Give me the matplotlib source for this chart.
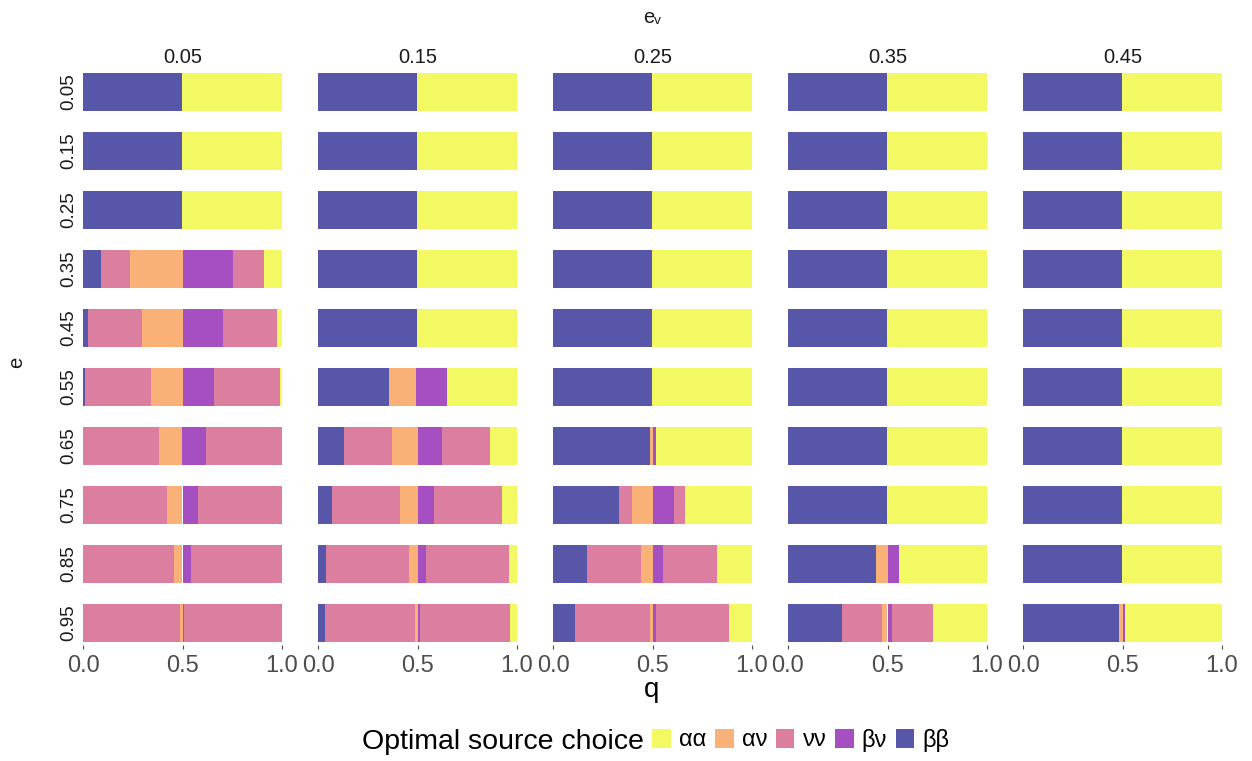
import matplotlib
matplotlib.use("Agg")
import matplotlib.pyplot as plt
from matplotlib.patches import Patch

plt.rcParams["font.family"] = ["Liberation Sans", "DejaVu Sans"]

# Facet levels
ev_levels = ["0.05", "0.15", "0.25", "0.35", "0.45"]
e_levels = ["0.05", "0.15", "0.25", "0.35", "0.45", "0.55", "0.65", "0.75", "0.85", "0.95"]

# Source choices and their fill colours
choices = ["αα", "αν", "νν", "βν", "ββ"]
choice_colors = {
    "αα": "#F3F962",
    "αν": "#F9B178",
    "νν": "#DC7EA0",
    "βν": "#A64FC1",
    "ββ": "#5756A8",
}

# Each row: sequence of (choice, upper q bound) from q = 0 to q = 1
SPLIT = [("ββ", 0.497), ("αα", 1.0)]

regions_ev005 = [
    SPLIT, SPLIT, SPLIT,
    [("ββ", 0.092), ("νν", 0.236), ("αν", 0.5), ("βν", 0.755), ("νν", 0.91), ("αα", 1.0)],
    [("ββ", 0.025), ("νν", 0.295), ("αν", 0.5), ("βν", 0.705), ("νν", 0.975), ("αα", 1.0)],
    [("ββ", 0.012), ("νν", 0.343), ("αν", 0.5), ("βν", 0.658), ("νν", 0.99), ("αα", 1.0)],
    [("νν", 0.384), ("αν", 0.495), ("βν", 0.616), ("νν", 1.0)],
    [("νν", 0.424), ("αν", 0.5), ("βν", 0.578), ("νν", 1.0)],
    [("νν", 0.457), ("αν", 0.5), ("βν", 0.544), ("νν", 1.0)],
    [("νν", 0.487), ("αν", 0.5), ("βν", 0.51), ("νν", 1.0)],
]

regions_ev015 = [
    SPLIT, SPLIT, SPLIT, SPLIT, SPLIT,
    [("ββ", 0.357), ("αν", 0.494), ("βν", 0.647), ("αα", 1.0)],
    [("ββ", 0.131), ("νν", 0.374), ("αν", 0.5), ("βν", 0.625), ("νν", 0.866), ("αα", 1.0)],
    [("ββ", 0.072), ("νν", 0.414), ("αν", 0.5), ("βν", 0.585), ("νν", 0.926), ("αα", 1.0)],
    [("ββ", 0.042), ("νν", 0.456), ("αν", 0.5), ("βν", 0.544), ("νν", 0.958), ("αα", 1.0)],
    [("ββ", 0.034), ("νν", 0.487), ("αν", 0.502), ("βν", 0.511), ("νν", 0.966), ("αα", 1.0)],
]

regions_ev025 = [
    SPLIT, SPLIT, SPLIT, SPLIT, SPLIT, SPLIT,
    [("ββ", 0.486), ("αν", 0.502), ("βν", 0.516), ("αα", 1.0)],
    [("ββ", 0.332), ("νν", 0.395), ("αν", 0.5), ("βν", 0.606), ("νν", 0.665), ("αα", 1.0)],
    [("ββ", 0.171), ("νν", 0.444), ("αν", 0.5), ("βν", 0.553), ("νν", 0.826), ("αα", 1.0)],
    [("ββ", 0.112), ("νν", 0.486), ("αν", 0.5), ("βν", 0.516), ("νν", 0.884), ("αα", 1.0)],
]

regions_ev035 = [
    SPLIT, SPLIT, SPLIT, SPLIT, SPLIT, SPLIT, SPLIT, SPLIT,
    [("ββ", 0.444), ("αν", 0.5), ("βν", 0.556), ("αα", 1.0)],
    [("ββ", 0.273), ("νν", 0.474), ("αν", 0.5), ("βν", 0.524), ("νν", 0.727), ("αα", 1.0)],
]

regions_ev045 = [
    SPLIT, SPLIT, SPLIT, SPLIT, SPLIT, SPLIT, SPLIT, SPLIT, SPLIT,
    [("ββ", 0.484), ("αν", 0.5), ("βν", 0.513), ("αα", 1.0)],
]

regions_by_ev = [regions_ev005, regions_ev015, regions_ev025, regions_ev035, regions_ev045]

x_ticks = [0.0, 0.5, 1.0]
x_tick_labels = ["0.0", "0.5", "1.0"]

W, H = 1252, 761
fig = plt.figure(figsize=(W / 100, H / 100), dpi=100)


def fx(px):
    return px / W


def fy(py):
    return 1 - py / H


panel_left = [83, 318, 553, 788, 1023]
panel_w = 199
panel_top, panel_bottom = 70, 645
bar_h = 0.644

for j, (ev, rows) in enumerate(zip(ev_levels, regions_by_ev)):
    ax = fig.add_axes([fx(panel_left[j]), fy(panel_bottom), panel_w / W,
                       (panel_bottom - panel_top) / H])
    for i, row in enumerate(rows):
        start = 0.0
        for choice, end in row:
            ax.barh(i, end - start, left=start, height=bar_h,
                    color=choice_colors[choice], edgecolor="none", linewidth=0)
            start = end
    ax.set_xlim(0, 1)
    ax.set_ylim(9.373, -0.373)
    for s in ax.spines.values():
        s.set_visible(False)
    ax.set_xticks(x_ticks)
    ax.set_xticklabels(x_tick_labels, fontsize=17, color="#4D4D4D")
    ax.tick_params(axis="x", length=3, width=0.8, color="#4D4D4D", pad=4)
    if j == 0:
        ax.set_yticks(range(len(e_levels)))
        ax.set_yticklabels(e_levels, rotation=90, va="center", fontsize=13.5,
                           color="#1A1A1A")
        ax.tick_params(axis="y", length=0, pad=4)
    else:
        ax.set_yticks([])
    ax.set_title(ev, fontsize=14.5, color="#1A1A1A", pad=5)

fig.text(fx(652), fy(17), "eᵥ", ha="center", va="center", fontsize=14.5,
         color="#1A1A1A")
fig.text(fx(17), fy(362), "e", ha="center", va="center", fontsize=14.5,
         rotation=90, color="#1A1A1A")
fig.text(fx(652), fy(690), "q", ha="center", va="center", fontsize=20,
         color="black")

# Legend: title to the left of a single row of keys
fig.text(fx(362), fy(742), "Optimal source choice", ha="left", va="center",
         fontsize=20.5, color="black")
handles = [Patch(facecolor=choice_colors[c], edgecolor="none") for c in choices]
fig.legend(handles, choices, loc="center left", bbox_to_anchor=(fx(652), fy(740)),
           ncol=5, frameon=False, fontsize=17, handlelength=0.8,
           handleheight=0.85, handletextpad=0.34, columnspacing=0.36,
           borderaxespad=0, borderpad=0)

fig.savefig("out.png", dpi=100, facecolor="white")
